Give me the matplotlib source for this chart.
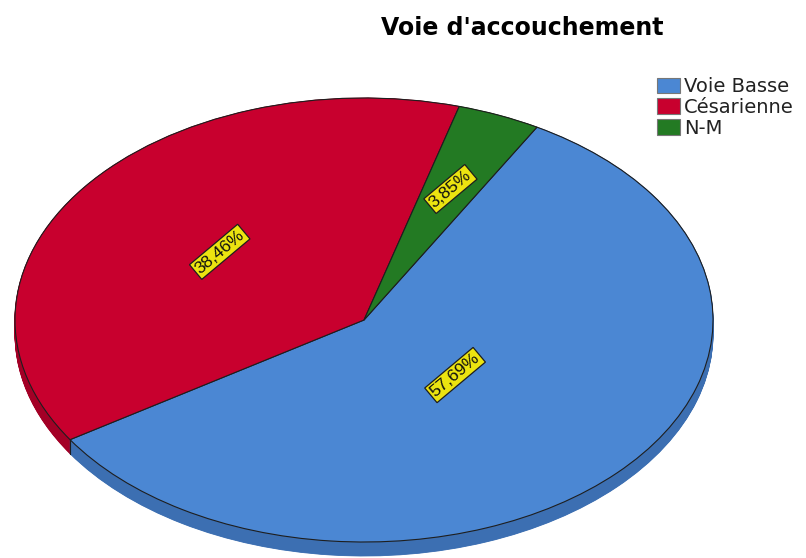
import numpy as np
import matplotlib.pyplot as plt

# Mode of delivery, share of cases (%)
categories = ["Voie Basse", "Césarienne", "N-M"]
percentages = [57.69, 38.46, 3.85]

top_colors = ["#4b87d3", "#c8002e", "#237a23"]
side_colors = ["#3c6fb2", "#a30026", "#1b5e1b"]
label_radius = [0.36, 0.515, 0.64]

W, H = 806, 558
cx, cy = 364, 238      # pie centre, px from bottom-left
rx, ry = 349, 222      # ellipse half-axes, px
depth = 14 / ry        # thickness of the disc
start = 60.3

fig = plt.figure(figsize=(W / 100, H / 100), dpi=100)
ax = fig.add_axes([0, 0, 1, 1])

# side of the disc: stacked copies of the pie shifted down
for off in np.linspace(depth, 0, 25):
    wedges, _ = ax.pie(percentages, colors=side_colors, startangle=start,
                       counterclock=False, center=(0, -off), radius=1)
    for w in wedges:
        w.set_edgecolor(w.get_facecolor())
        w.set_linewidth(0.6)

# top face
top, _ = ax.pie(percentages, colors=top_colors, startangle=start,
                counterclock=False,
                wedgeprops=dict(edgecolor="#1e1e1e", linewidth=0.8))

# slice borders on the visible front of the side
bounds = start - 360 * np.cumsum(percentages) / np.sum(percentages)
for t in np.radians(bounds):
    if np.sin(t) < 0:
        ax.plot([np.cos(t), np.cos(t)], [np.sin(t), np.sin(t) - depth],
                color="#1e1e1e", lw=0.8)

# percentage labels
mids = start - 360 * (np.cumsum(percentages) - np.array(percentages) / 2) / np.sum(percentages)
for p, m, r in zip(percentages, np.radians(mids), label_radius):
    ax.text(r * np.cos(m), r * np.sin(m), f"{p:.2f}%".replace(".", ","),
            rotation=40, rotation_mode="anchor", ha="center", va="center",
            fontsize=12.5, family="Liberation Sans", color="#111111",
            bbox=dict(boxstyle="square,pad=0.12", fc="#ece410", ec="#1e1e1e", lw=0.9))

ax.set_aspect("auto")
ax.set_xlim(-cx / rx, (W - cx) / rx)
ax.set_ylim(-cy / ry, (H - cy) / ry)
ax.axis("off")

leg = ax.legend(top, categories, loc="upper left",
                bbox_to_anchor=(657 / W, 1 - 77 / H), bbox_transform=fig.transFigure,
                frameon=False, fontsize=14, handlelength=1.2, handleheight=0.85,
                handletextpad=0.2, labelspacing=0.1, borderpad=0, borderaxespad=0)
for h in leg.legend_handles:
    h.set_edgecolor("#777777")
    h.set_linewidth(0.8)
for t in leg.get_texts():
    t.set_color("#222222")

fig.text(522 / W, 1 - 28 / H, "Voie d'accouchement", fontsize=17,
         fontweight="bold", ha="center", va="center")

fig.savefig("out.png", dpi=100)
